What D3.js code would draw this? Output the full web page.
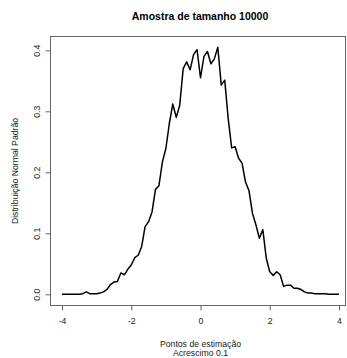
<!DOCTYPE html>
<html lang="pt">
<head>
<meta charset="UTF-8">
<title>Amostra de tamanho 10000</title>
<script src="https://d3js.org/d3.v7.min.js"></script>
<style>
  body { margin: 0; background: #fff; }
  text { font-family: "Liberation Sans", Arial, sans-serif; }
</style>
</head>
<body>
<svg id="chart" width="347" height="358"></svg>
<script>
// pontos de estimação -4 .. 4, acrescimo 0.1
const pontos = d3.range(81).map(i => +(-4 + i * 0.1).toFixed(1));
const densidade = [
  0.000, 0.000, 0.000, 0.000, 0.000, 0.000, 0.001, 0.004, 0.001, 0.001,
  0.001, 0.002, 0.004, 0.008, 0.016, 0.020, 0.021, 0.035, 0.032, 0.041,
  0.048, 0.060, 0.064, 0.078, 0.111, 0.119, 0.135, 0.172, 0.178, 0.217,
  0.239, 0.280, 0.312, 0.290, 0.310, 0.370, 0.381, 0.368, 0.393, 0.401,
  0.355, 0.390, 0.398, 0.378, 0.386, 0.405, 0.343, 0.351, 0.288, 0.240,
  0.242, 0.223, 0.215, 0.184, 0.170, 0.133, 0.114, 0.092, 0.106, 0.059,
  0.037, 0.031, 0.037, 0.032, 0.013, 0.015, 0.015, 0.010, 0.010, 0.008,
  0.004, 0.002, 0.002, 0.001, 0.001, 0.001, 0.001, 0.000, 0.000, 0.000,
  0.000
];
const xTicks = [-4, -2, 0, 2, 4];
const yTicks = [0, 0.1, 0.2, 0.3, 0.4];

const svg = d3.select("#chart");
const fs = 8.7;

// caixa do gráfico
const box = { left: 50.5, right: 345.5, top: 36.5, bottom: 305.5 };

const x = d3.scaleLinear().domain([-4, 4]).range([62, 339]);
const y = d3.scaleLinear().domain([0, 0.4]).range([294.3, 50.3]);

svg.append("rect")
  .attr("x", box.left).attr("y", box.top)
  .attr("width", box.right - box.left).attr("height", box.bottom - box.top)
  .attr("fill", "none").attr("stroke", "#666").attr("stroke-width", 1);

// eixo x
const xAxis = svg.append("g").attr("transform", `translate(0,${box.bottom})`)
  .call(d3.axisBottom(x).tickValues(xTicks).tickSize(5).tickPadding(7).tickFormat(d3.format("d")));
xAxis.select(".domain")
  .attr("d", `M${x(-4)},0H${x(4)}`).attr("stroke", "#666");
xAxis.selectAll(".tick line").attr("stroke", "#666");
xAxis.selectAll(".tick text").attr("font-size", fs).attr("fill", "#222")
  .text(d => d < 0 ? "-" + Math.abs(d) : d);

// eixo y
const yAxis = svg.append("g").attr("transform", `translate(${box.left},0)`)
  .call(d3.axisLeft(y).tickValues(yTicks).tickSize(5).tickFormat(d3.format(".1f")));
yAxis.select(".domain")
  .attr("d", `M0,${y(0)}V${y(0.4)}`).attr("stroke", "#666");
yAxis.selectAll(".tick line").attr("stroke", "#666");
yAxis.selectAll(".tick text")
  .attr("font-size", fs).attr("fill", "#222")
  .attr("text-anchor", "middle").attr("x", 0).attr("dy", null)
  .attr("transform", "translate(-14,0) rotate(-90)")
  .attr("dominant-baseline", "central");

// curva
const line = d3.line()
  .x((d, i) => x(pontos[i]))
  .y(d => y(d));

svg.append("path")
  .datum(densidade)
  .attr("d", line)
  .attr("fill", "none")
  .attr("stroke", "#000")
  .attr("stroke-width", 1.5)
  .attr("stroke-linejoin", "round");

// títulos
svg.append("text")
  .attr("x", 200).attr("y", 20)
  .attr("text-anchor", "middle")
  .attr("font-size", 10.5).attr("font-weight", "bold")
  .text("Amostra de tamanho 10000");

svg.append("text")
  .attr("x", x(0)).attr("y", 346.5)
  .attr("text-anchor", "middle").attr("font-size", fs).attr("fill", "#222")
  .text("Pontos de estimação");

svg.append("text")
  .attr("x", x(0)).attr("y", 356)
  .attr("text-anchor", "middle").attr("font-size", fs).attr("fill", "#222")
  .text("Acrescimo 0.1");

svg.append("text")
  .attr("transform", `translate(18,${(box.top + box.bottom) / 2}) rotate(-90)`)
  .attr("text-anchor", "middle").attr("font-size", fs).attr("fill", "#222")
  .text("Distribuição Normal Padrão");
</script>
</body>
</html>
